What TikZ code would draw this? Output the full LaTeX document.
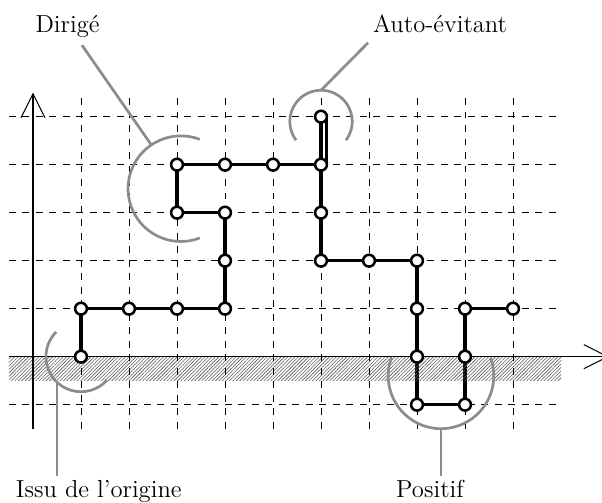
\documentclass[tikz,border=0pt]{standalone}
\usepackage{amssymb, amsmath}
\usetikzlibrary{arrows.meta, patterns.meta, backgrounds}

\tikzset{
  pt/.style={circle, draw, fill=white, line width=1.5pt, minimum size=7pt, inner sep=0pt},
  walk/.style={line width=1.8pt},
  hint/.style={black!45, line width=1.6pt},
  grille/.style={dash pattern=on 4pt off 4pt, line width=0.5pt},
  axe/.style={line width=0.6pt, -{Straight Barb[length=0.5cm, width=0.5cm]}},
  lab/.style={anchor=base, inner sep=0pt, font=\fontsize{14.6}{17}\selectfont},
}

\begin{document}
\begin{tikzpicture}
\useasboundingbox (-0.6875,-3.048) rectangle (11.854,7.431);

% hachures sous l'axe
\fill[pattern={Lines[angle=45, distance=1.45pt, line width=0.35pt]}, pattern color=black!65] (-0.5,-0.5) rectangle (11,0);

% grille
\foreach \x in {1,...,10}
  \draw[grille] (\x,-1.5) -- (\x,5.5);
\foreach \y in {-1,1,2,3,4,5}
  \draw[grille] (-0.5,\y) -- (11,\y);

% axes
\draw[axe] (-0.5,0) -- (12,0);
\draw[axe] (0,-1.5) -- (0,5.5);

% sommets du chemin
\foreach \i/\p in {1/{1,0}, 2/{1,1}, 3/{2,1}, 4/{3,1}, 5/{4,1}, 6/{4,2}, 7/{4,3}, 8/{3,3},
                   9/{3,4}, 10/{4,4}, 11/{5,4}, 12/{6,4}, 13/{6,5}, 14/{6,3}, 15/{6,2}, 16/{7,2},
                   17/{8,2}, 18/{8,1}, 19/{8,0}, 20/{8,-1}, 21/{9,-1}, 22/{9,0}, 23/{9,1}, 24/{10,1}}
  \node[pt] (p\i) at (\p) {};

\begin{scope}[on background layer]
\draw[walk] (p1.center) -- (p2.center) -- (p3.center) -- (p4.center) -- (p5.center) -- (p6.center)
  -- (p7.center) -- (p8.center) -- (p9.center) -- (p10.center) -- (p11.center) -- (p12.center) -- (p13.center);
\draw[walk] ([xshift=0.12cm]p13.center) -- ([xshift=0.12cm]p12.center);
\draw[walk] (p12.center) -- (p14.center) -- (p15.center) -- (p16.center) -- (p17.center) -- (p18.center)
  -- (p19.center) -- (p20.center) -- (p21.center) -- (p22.center) -- (p23.center) -- (p24.center);
\end{scope}

% arcs et legendes
\draw[hint] ([shift={(3.08,3.5)}]69:1.1) arc[start angle=69, end angle=291, radius=1.1];
\draw[hint] ([shift={(6,4.9)}]-37:0.65) arc[start angle=-37, end angle=217, radius=0.65];
\draw[hint] ([shift={(1,0)}]135:0.73) arc[start angle=135, end angle=318, radius=0.73];
\draw[hint] ([shift={(8.5,-0.4)}]160:1.1) arc[start angle=160, end angle=380, radius=1.1];

\coordinate (a1) at ([shift={(3.08,3.5)}]124:1.1);
\coordinate (a2) at (6,5.55);
\coordinate (a3) at (0.5,-0.53);
\coordinate (a4) at (8.5,-1.5);
\coordinate (b1) at (1.02,6.49);
\coordinate (b2) at (6.98,6.54);
\coordinate (b3) at (0.5,-2.49);
\coordinate (b4) at (8.5,-2.49);

\draw[hint] (a1) -- (b1);
\draw[hint] (a2) -- (b2);
\draw[hint] (a3) -- (b3);
\draw[hint] (a4) -- (b4);

\node[lab] (dirige) at (0.72,6.75) {Dirigé};
\node[lab] (auto) at (8.48,6.75) {Auto-évitant};
\node[lab] (issu) at (1.37,-2.94) {Issu de l'origine};
\node[lab] (positif) at (8.27,-2.94) {Positif};
\end{tikzpicture}
\end{document}
